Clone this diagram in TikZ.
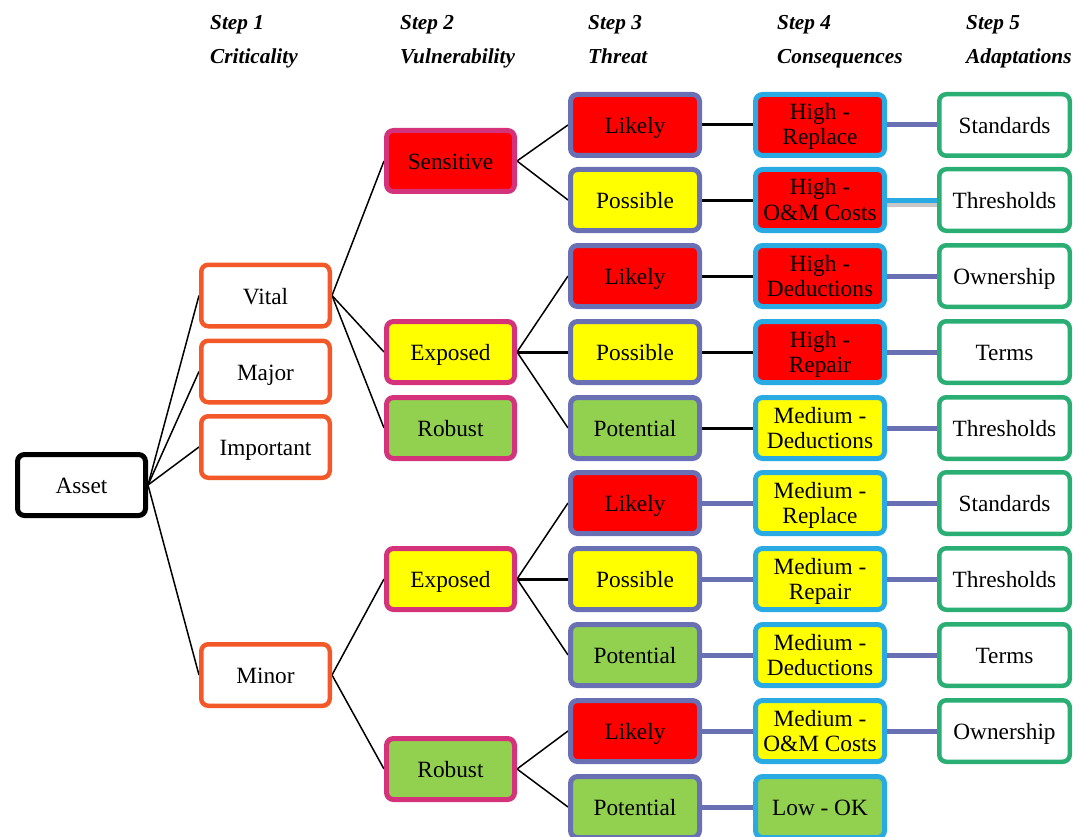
\documentclass[tikz,border=0pt]{standalone}
\usepackage{fontspec}
\setmainfont{Liberation Serif}
\usetikzlibrary{backgrounds}

\definecolor{critorange}{RGB}{242,88,40}
\definecolor{vulmag}{RGB}{212,50,122}
\definecolor{thrpurple}{RGB}{106,112,180}
\definecolor{concyan}{RGB}{41,170,226}
\definecolor{adagreen}{RGB}{42,174,116}
\definecolor{hired}{RGB}{255,0,0}
\definecolor{medyellow}{RGB}{255,255,0}
\definecolor{lowgreen}{RGB}{146,208,80}

\tikzset{
  cell/.style={rectangle, rounded corners=7pt, inner sep=0pt, align=center,
    text=black, font=\fontsize{23.3}{25}\selectfont,
    text height=18pt, text depth=1pt},
  twoline/.style={text height=43pt, text depth=3pt},
  assetbox/.style={cell, draw=black, fill=white, line width=5pt,
    minimum width=128pt, minimum height=61pt},
  critbox/.style={cell, draw=critorange, fill=white, line width=4.5pt,
    minimum width=128.5pt, minimum height=61.5pt},
  vulbox/.style={cell, draw=vulmag, line width=5pt,
    minimum width=128pt, minimum height=61pt},
  thrbox/.style={cell, draw=thrpurple, line width=5pt,
    minimum width=129pt, minimum height=61pt},
  conbox/.style={cell, draw=concyan, line width=5pt,
    minimum width=129pt, minimum height=61pt},
  adabox/.style={cell, draw=adagreen, fill=white, line width=4.5pt,
    minimum width=130.5pt, minimum height=61.5pt},
  hi/.style={fill=hired},
  med/.style={fill=medyellow},
  lo/.style={fill=lowgreen},
  head/.style={anchor=base west, inner sep=0pt,
    font=\fontsize{21.3}{23}\selectfont\bfseries\itshape},
  link/.style={draw=black, line width=1.5pt},
  boldlink/.style={draw=black, line width=3pt},
  purplelink/.style={draw=thrpurple, line width=5pt},
  cyanlink/.style={draw=concyan, line width=5pt,
    preaction={draw=black!22, line width=5pt, transform canvas={yshift=-4pt}}},
}

\begin{document}
\begin{tikzpicture}[x=1pt, y=-1pt]
\useasboundingbox (0,0) rectangle (1078,837);

% column headings
\node[head] (h1a) at (210,30) {Step 1};
\node[head] (h1b) at (210,64) {Criticality};
\node[head] (h2a) at (400,30) {Step 2};
\node[head] (h2b) at (400,64) {Vulnerability};
\node[head] (h3a) at (588,30) {Step 3};
\node[head] (h3b) at (588,64) {Threat};
\node[head] (h4a) at (777,30) {Step 4};
\node[head] (h4b) at (777,64) {Consequences};
\node[head] (h5a) at (966,30) {Step 5};
\node[head] (h5b) at (966,64) {Adaptations};

% root
\node[assetbox] (asset) at (81.5,485) {Asset};

% step 1: criticality
\node[critbox] (vital) at (265.5,295.5) {Vital};
\node[critbox] (major) at (265.5,371.5) {Major};
\node[critbox] (important) at (265.5,447) {Important};
\node[critbox] (minor) at (265.5,675) {Minor};

% step 2: vulnerability
\node[vulbox, hi]  (sens)  at (450.5,161) {Sensitive};
\node[vulbox, med] (expA)  at (450.5,352) {Exposed};
\node[vulbox, lo]  (robA)  at (450.5,428) {Robust};
\node[vulbox, med] (expB)  at (450.5,579) {Exposed};
\node[vulbox, lo]  (robB)  at (450.5,769) {Robust};

% step 3: threat
\node[thrbox, hi]  (t1)  at (635,125) {Likely};
\node[thrbox, med] (t2)  at (635,200) {Possible};
\node[thrbox, hi]  (t3)  at (635,276) {Likely};
\node[thrbox, med] (t4)  at (635,352) {Possible};
\node[thrbox, lo]  (t5)  at (635,428) {Potential};
\node[thrbox, hi]  (t6)  at (635,503) {Likely};
\node[thrbox, med] (t7)  at (635,579) {Possible};
\node[thrbox, lo]  (t8)  at (635,655) {Potential};
\node[thrbox, hi]  (t9)  at (635,731) {Likely};
\node[thrbox, lo]  (t10) at (635,807) {Potential};

% step 4: consequences
\node[conbox, hi, twoline]  (c1)  at (820,125) {High -\\Replace};
\node[conbox, hi, twoline]  (c2)  at (820,200) {High -\\O\&M Costs};
\node[conbox, hi, twoline]  (c3)  at (820,276) {High -\\Deductions};
\node[conbox, hi, twoline]  (c4)  at (820,352) {High -\\Repair};
\node[conbox, med, twoline] (c5)  at (820,428) {Medium -\\Deductions};
\node[conbox, med, twoline] (c6)  at (820,503) {Medium -\\Replace};
\node[conbox, med, twoline] (c7)  at (820,579) {Medium -\\Repair};
\node[conbox, med, twoline] (c8)  at (820,655) {Medium -\\Deductions};
\node[conbox, med, twoline] (c9)  at (820,731) {Medium -\\O\&M Costs};
\node[conbox, lo]  (c10) at (820,807) {Low - OK};

% step 5: adaptations
\node[adabox] (a1) at (1004.5,125) {Standards};
\node[adabox] (a2) at (1004.5,200) {Thresholds};
\node[adabox] (a3) at (1004.5,276) {Ownership};
\node[adabox] (a4) at (1004.5,352) {Terms};
\node[adabox] (a5) at (1004.5,428) {Thresholds};
\node[adabox] (a6) at (1004.5,503) {Standards};
\node[adabox] (a7) at (1004.5,579) {Thresholds};
\node[adabox] (a8) at (1004.5,655) {Terms};
\node[adabox] (a9) at (1004.5,731) {Ownership};

\begin{scope}[on background layer]
  % asset to criticality
  \foreach \n in {vital,major,important,minor}
    \draw[link] (asset.east) -- (\n.west);
  % criticality to vulnerability
  \foreach \n in {sens,expA,robA}
    \draw[link] (vital.east) -- (\n.west);
  \foreach \n in {expB,robB}
    \draw[link] (minor.east) -- (\n.west);
  % vulnerability to threat
  \draw[link] (sens.east) -- (t1.west);
  \draw[link] (sens.east) -- (t2.west);
  \draw[link] (expA.east) -- (t3.west);
  \draw[boldlink] (expA.east) -- (t4.west);
  \draw[link] (expA.east) -- (t5.west);
  \draw[link] (expB.east) -- (t6.west);
  \draw[boldlink] (expB.east) -- (t7.west);
  \draw[link] (expB.east) -- (t8.west);
  \draw[link] (robB.east) -- (t9.west);
  \draw[link] (robB.east) -- (t10.west);
  % threat to consequences
  \foreach \i in {1,...,5}
    \draw[boldlink] (t\i.east) -- (c\i.west);
  \foreach \i in {6,...,10}
    \draw[purplelink] (t\i.east) -- (c\i.west);
  % consequences to adaptations
  \foreach \i in {1,3,4,5,6,7,8,9}
    \draw[purplelink] (c\i.east) -- (a\i.west);
  \draw[cyanlink] (c2.east) -- (a2.west);
\end{scope}
\end{tikzpicture}
\end{document}
